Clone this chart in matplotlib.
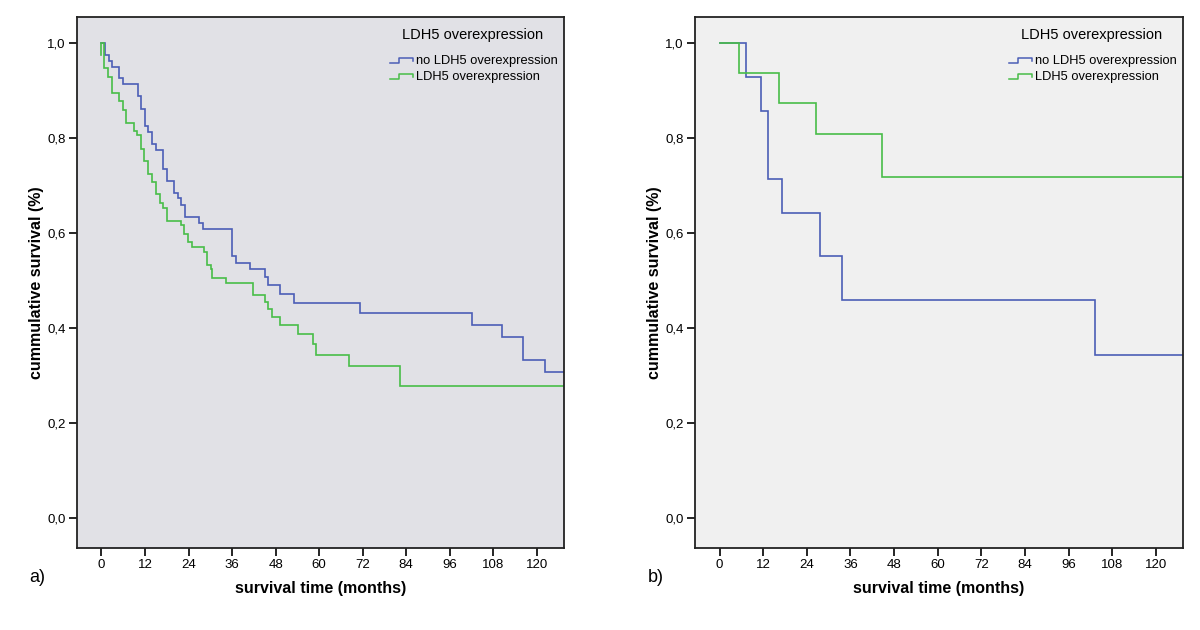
import matplotlib
matplotlib.use("Agg")
import matplotlib.pyplot as plt
from matplotlib.ticker import FuncFormatter

plt.rcParams['font.family'] = ['Liberation Sans', 'DejaVu Sans']

# ---- data ----
x_ticks = [0, 12, 24, 36, 48, 60, 72, 84, 96, 108, 120]
y_ticks = [0.0, 0.2, 0.4, 0.6, 0.8, 1.0]
legend_title = "LDH5 overexpression"
group_labels = ["no LDH5 overexpression", "LDH5 overexpression"]

# panel a)
a_no_t = [0, 1.0, 2.0, 3.0, 4.8, 6.0, 10.0, 10.9, 11.9, 12.9, 13.9, 15.0, 17.0, 18.0,
          19.9, 21.0, 21.9, 22.9, 27.0, 28.0, 36.1, 37.1, 41.0, 45.0, 46.0, 49.2,
          53.1, 71.2, 102.2, 110.3, 116.3, 122.3, 127.5]
a_no_s = [1.0, 0.976, 0.963, 0.950, 0.926, 0.914, 0.888, 0.862, 0.825, 0.813, 0.787,
          0.775, 0.736, 0.710, 0.685, 0.673, 0.660, 0.634, 0.622, 0.608, 0.552, 0.538,
          0.524, 0.507, 0.490, 0.471, 0.453, 0.432, 0.407, 0.382, 0.332, 0.307, 0.307]
a_yes_t = [0, 0, 0.8, 1.7, 2.8, 4.8, 5.9, 6.8, 8.9, 9.8, 10.9, 11.8, 12.8, 13.9, 14.9,
           16.0, 17.0, 18.0, 21.9, 22.8, 23.9, 25.0, 28.3, 29.2, 30.1, 30.6, 34.4,
           41.8, 45.0, 46.0, 47.0, 49.2, 54.1, 58.2, 59.1, 68.1, 82.3, 127.5]
a_yes_s = [0.975, 1.0, 0.947, 0.929, 0.895, 0.878, 0.859, 0.832, 0.815, 0.806, 0.778,
           0.752, 0.724, 0.707, 0.682, 0.664, 0.653, 0.626, 0.618, 0.599, 0.582, 0.571,
           0.561, 0.533, 0.524, 0.505, 0.495, 0.469, 0.455, 0.441, 0.423, 0.407, 0.387,
           0.366, 0.343, 0.320, 0.278, 0.278]

# panel b)
b_no_t = [0, 7.2, 11.3, 13.4, 17.3, 27.5, 33.6, 103.2, 127.5]
b_no_s = [1.0, 0.929, 0.857, 0.714, 0.643, 0.551, 0.459, 0.344, 0.344]
b_yes_t = [0, 5.3, 16.4, 26.5, 44.8, 127.5]
b_yes_s = [1.0, 0.9375, 0.875, 0.808, 0.718, 0.718]

BLUE = "#4b5eb6"
GREEN = "#48bd48"

fig = plt.figure(figsize=(12, 6.3), dpi=100)
fig.patch.set_facecolor("white")

def panel(rect, bg, t1, s1, t2, s2, letter, letter_x):
    ax = fig.add_axes(rect)
    ax.set_facecolor(bg)
    ax.step(t1, s1, where="post", color=BLUE, lw=1.2, solid_joinstyle="miter")
    ax.step(t2, s2, where="post", color=GREEN, lw=1.2, solid_joinstyle="miter")
    ax.set_xlim(-6.8, 127.5)
    ax.set_ylim(-0.063, 1.055)
    ax.set_xticks(x_ticks)
    ax.set_yticks(y_ticks)
    ax.yaxis.set_major_formatter(FuncFormatter(lambda v, p: f"{v:.1f}".replace(".", ",")))
    ax.tick_params(direction="out", length=6, width=1.2, labelsize=9.5, colors="black", pad=2)
    for sp in ax.spines.values():
        sp.set_linewidth(1.3)
        sp.set_color("#222222")
    ax.set_xlabel("survival time (months)", fontsize=11.5, fontweight="bold", labelpad=7)
    ax.set_ylabel("cummulative survival (%)", fontsize=11.5, fontweight="bold", labelpad=2)
    # legend (drawn manually to mimic SPSS step icons)
    ax.text(0.813, 0.966, legend_title, transform=ax.transAxes, ha="center", va="center",
            fontsize=10.5)
    for lab, col, yy in [(group_labels[0], BLUE, 0.917), (group_labels[1], GREEN, 0.887)]:
        x0, x1, x2 = 0.643, 0.662, 0.690
        ax.plot([x0, x1, x1, x2, x2], [yy - 0.004, yy - 0.004, yy + 0.006, yy + 0.006, yy],
                transform=ax.transAxes, color=col, lw=1.1, clip_on=False)
        ax.text(0.696, yy, lab, transform=ax.transAxes, ha="left", va="center", fontsize=9.3)
    fig.text(letter_x, 0.083, letter, fontsize=13, ha="left", va="center")
    return ax

panel([0.064, 0.130, 0.406, 0.843], "#e1e1e6", a_no_t, a_no_s, a_yes_t, a_yes_s, "a)", 0.024)
panel([0.579, 0.130, 0.407, 0.843], "#f0f0f0", b_no_t, b_no_s, b_yes_t, b_yes_s, "b)", 0.540)

fig.savefig("out.png", dpi=100)
